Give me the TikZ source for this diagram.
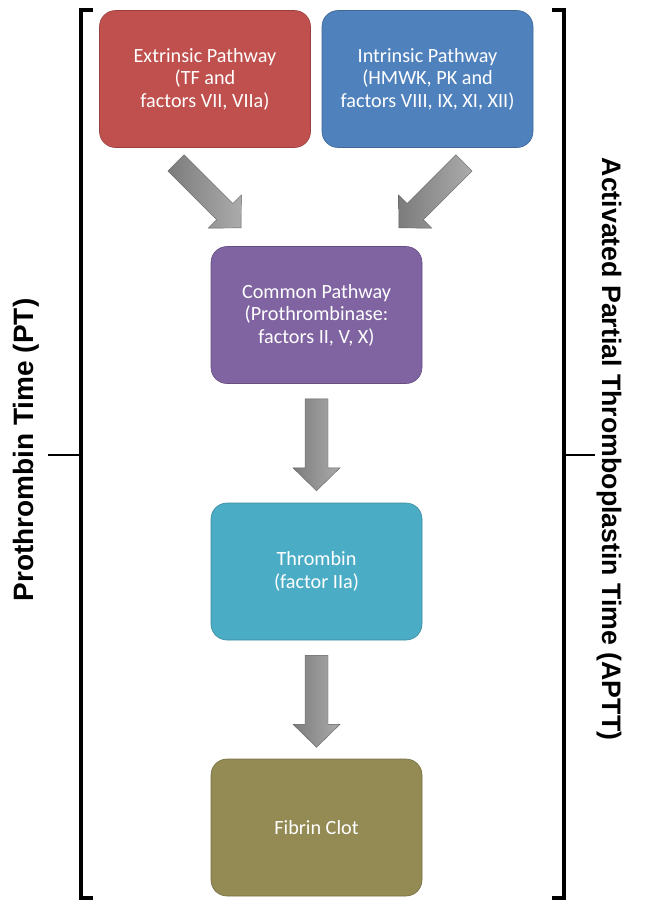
\documentclass[tikz,border=0pt]{standalone}
\usepackage{fontspec}
\setmainfont{Carlito}
\newfontfamily\sidefont{Liberation Sans}
\usetikzlibrary{calc}
\definecolor{extc}{HTML}{C0504D}
\definecolor{intc}{HTML}{4F81BD}
\definecolor{comc}{HTML}{8064A2}
\definecolor{thrc}{HTML}{4BACC6}
\definecolor{fibc}{HTML}{948A54}
\definecolor{arrdark}{HTML}{7C7C7C}
\definecolor{arrlight}{HTML}{ABABAB}
\begin{document}
\begin{tikzpicture}[x=1pt,y=-1pt,
  box/.style={rounded corners=16pt, minimum width=211pt, minimum height=137pt,
    text=white, align=center, font=\fontsize{20.2}{22.5}\selectfont,
    draw=#1!80!black, fill=#1, line width=0.6pt, inner sep=0pt},
  arrowshade/.style={draw=gray!75!black, line width=0.4pt, left color=arrdark, right color=arrlight},
  blockarr/.pic={\shade[arrowshade] (0,-11.5) -- (69,-11.5) -- (69,-23.5) -- (92,0) -- (69,23.5) -- (69,11.5) -- (0,11.5) -- cycle;},
  brk/.style={line width=4pt, line cap=butt, line join=miter},
  sidelabel/.style={font=\sidefont\bfseries\fontsize{#1}{#1}\selectfont, inner sep=0pt, anchor=base}
]
\useasboundingbox (0,0) rectangle (645,911);

% boxes
\node[box=extc] (ext) at (205,79) {Extrinsic Pathway\\(TF and\\factors VII, VIIa)};
\node[box=intc] (int) at (427.5,79) {Intrinsic Pathway\\(HMWK, PK and\\factors VIII, IX, XI, XII)};
\node[box=comc] (com) at (316.5,315) {Common Pathway\\(Prothrombinase:\\factors II, V, X)};
\node[box=thrc] (thr) at (316.5,571.5) {Thrombin\\(factor IIa)};
\node[box=fibc] (fib) at (316.5,827.5) {Fibrin Clot};

% block arrows
\pic[rotate=-45] at ($(ext.south)+(-29,15)$) {blockarr};
\pic[rotate=-135] at ($(int.south)+(36.5,15)$) {blockarr};
\pic[rotate=-90] at ($(com.south)+(0,15)$) {blockarr};
\pic[rotate=-90] at ($(thr.south)+(0,15)$) {blockarr};

% brackets
\coordinate (lt) at (81,10);
\coordinate (lb) at (81,898);
\coordinate (rt) at (564,10);
\coordinate (rb) at (564,898);
\draw[brk] ($(lt)+(12,0)$) -- (lt) -- (lb) -- ($(lb)+(12,0)$);
\draw[line width=2.5pt] (81,455) -- (48,455);
\draw[brk] ($(rt)+(-12,0)$) -- (rt) -- (rb) -- ($(rb)+(-12,0)$);
\draw[line width=2.5pt] (564,455) -- (595,455);

% side labels
\node[sidelabel=28, rotate=90] (pt) at (33,450) {Prothrombin Time (PT)};
\node[sidelabel=26.7, rotate=-90] (aptt) at (602,449) {Activated Partial Thromboplastin Time (APTT)};
\end{tikzpicture}
\end{document}
